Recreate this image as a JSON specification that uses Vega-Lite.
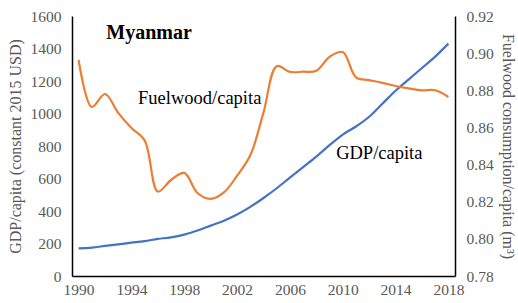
{
  "$schema": "https://vega.github.io/schema/vega-lite/v6.json",
  "width": 383,
  "height": 260,
  "autosize": {"type": "none"},
  "padding": {"left": 72, "top": 16, "right": 63, "bottom": 27},
  "background": "white",
  "config": {
    "view": {"stroke": null},
    "font": "Liberation Serif",
    "axis": {"grid": false, "ticks": false, "labelOverlap": false, "domainColor": "black", "domainWidth": 1.5, "labelFont": "Liberation Serif", "labelFontSize": 15.5, "labelColor": "#595959", "titleFont": "Liberation Serif", "titleFontSize": 16, "titleFontWeight": "normal", "titleColor": "#595959"}
  },
  "datasets": {
    "series": [
      {"year": 1990, "gdp": 170, "fuel": 0.8963},
      {"year": 1991, "gdp": 175, "fuel": 0.8710},
      {"year": 1992, "gdp": 185, "fuel": 0.8780},
      {"year": 1993, "gdp": 195, "fuel": 0.8678},
      {"year": 1994, "gdp": 205, "fuel": 0.8597},
      {"year": 1995, "gdp": 215, "fuel": 0.8530},
      {"year": 1996, "gdp": 228, "fuel": 0.8255},
      {"year": 1997, "gdp": 238, "fuel": 0.8317},
      {"year": 1998, "gdp": 255, "fuel": 0.8355},
      {"year": 1999, "gdp": 280, "fuel": 0.8247},
      {"year": 2000, "gdp": 310, "fuel": 0.8215},
      {"year": 2001, "gdp": 340, "fuel": 0.8250},
      {"year": 2002, "gdp": 378, "fuel": 0.8340},
      {"year": 2003, "gdp": 425, "fuel": 0.8450},
      {"year": 2004, "gdp": 480, "fuel": 0.8680},
      {"year": 2005, "gdp": 540, "fuel": 0.8930},
      {"year": 2006, "gdp": 605, "fuel": 0.8899},
      {"year": 2007, "gdp": 670, "fuel": 0.8900},
      {"year": 2008, "gdp": 735, "fuel": 0.8905},
      {"year": 2009, "gdp": 805, "fuel": 0.8980},
      {"year": 2010, "gdp": 870, "fuel": 0.9006},
      {"year": 2011, "gdp": 920, "fuel": 0.8870},
      {"year": 2012, "gdp": 980, "fuel": 0.8855},
      {"year": 2013, "gdp": 1060, "fuel": 0.8840},
      {"year": 2014, "gdp": 1140, "fuel": 0.8823},
      {"year": 2015, "gdp": 1210, "fuel": 0.8810},
      {"year": 2016, "gdp": 1280, "fuel": 0.8800},
      {"year": 2017, "gdp": 1350, "fuel": 0.8800},
      {"year": 2018, "gdp": 1430, "fuel": 0.8764}
    ],
    "title": [
      {"year": 1992.1, "val": 1495, "text": "Myanmar"}
    ],
    "labels": [
      {"year": 1994.5, "val": 1095, "text": "Fuelwood/capita"},
      {"year": 2009.5, "val": 757, "text": "GDP/capita"}
    ]
  },
  "layer": [
    {
      "layer": [
        {
          "data": {"name": "series"},
          "mark": {"type": "line", "color": "#4472C4", "strokeWidth": 2.2, "interpolate": "catmull-rom"},
          "encoding": {
            "x": {"field": "year", "type": "quantitative", "scale": {"domain": [1989.5, 2018.5], "nice": false, "zero": false},
                  "axis": {"values": [1990, 1994, 1998, 2002, 2006, 2010, 2014, 2018], "format": "d", "title": null, "labelPadding": 6, "labelOverlap": false}},
            "y": {"field": "gdp", "type": "quantitative", "scale": {"domain": [0, 1600], "nice": false},
                  "axis": {"values": [0, 200, 400, 600, 800, 1000, 1200, 1400, 1600], "format": "d", "title": "GDP/capita (constant 2015 USD)", "labelPadding": 11, "titlePadding": 7, "labelOverlap": false, "labelFlush": false}}
          }
        },
        {
          "data": {"name": "title"},
          "mark": {"type": "text", "align": "left", "baseline": "middle", "color": "black", "font": "Liberation Serif", "fontWeight": "bold", "fontSize": 20},
          "encoding": {
            "x": {"field": "year", "type": "quantitative", "scale": {"domain": [1989.5, 2018.5], "nice": false, "zero": false},
                  "axis": {"values": [1990, 1994, 1998, 2002, 2006, 2010, 2014, 2018], "format": "d", "title": null, "labelPadding": 6, "labelOverlap": false}},
            "y": {"field": "val", "type": "quantitative", "scale": {"domain": [0, 1600], "nice": false},
                  "axis": {"values": [0, 200, 400, 600, 800, 1000, 1200, 1400, 1600], "format": "d", "title": "GDP/capita (constant 2015 USD)", "labelPadding": 11, "titlePadding": 7, "labelOverlap": false, "labelFlush": false}},
            "text": {"field": "text"}
          }
        },
        {
          "data": {"name": "labels"},
          "mark": {"type": "text", "align": "left", "baseline": "middle", "color": "black", "font": "Liberation Serif", "fontSize": 18.5},
          "encoding": {
            "x": {"field": "year", "type": "quantitative", "scale": {"domain": [1989.5, 2018.5], "nice": false, "zero": false},
                  "axis": {"values": [1990, 1994, 1998, 2002, 2006, 2010, 2014, 2018], "format": "d", "title": null, "labelPadding": 6, "labelOverlap": false}},
            "y": {"field": "val", "type": "quantitative", "scale": {"domain": [0, 1600], "nice": false},
                  "axis": {"values": [0, 200, 400, 600, 800, 1000, 1200, 1400, 1600], "format": "d", "title": "GDP/capita (constant 2015 USD)", "labelPadding": 11, "titlePadding": 7, "labelOverlap": false, "labelFlush": false}},
            "text": {"field": "text"}
          }
        }
      ]
    },
    {
      "data": {"name": "series"},
      "mark": {"type": "line", "color": "#ED7D31", "strokeWidth": 2.2, "interpolate": "catmull-rom"},
      "encoding": {
        "x": {"field": "year", "type": "quantitative", "scale": {"domain": [1989.5, 2018.5], "nice": false, "zero": false},
              "axis": {"values": [1990, 1994, 1998, 2002, 2006, 2010, 2014, 2018], "format": "d", "title": null, "labelPadding": 6, "labelOverlap": false}},
        "y": {"field": "fuel", "type": "quantitative", "scale": {"domain": [0.78, 0.92], "nice": false, "zero": false},
              "axis": {"orient": "right", "values": [0.78, 0.80, 0.82, 0.84, 0.86, 0.88, 0.90, 0.92], "format": ".2f", "title": "Fuelwood consumption/capita (m³)", "labelPadding": 11, "titlePadding": 6, "labelOverlap": false, "labelFlush": false}}
      }
    }
  ],
  "resolve": {"scale": {"y": "independent"}}
}
